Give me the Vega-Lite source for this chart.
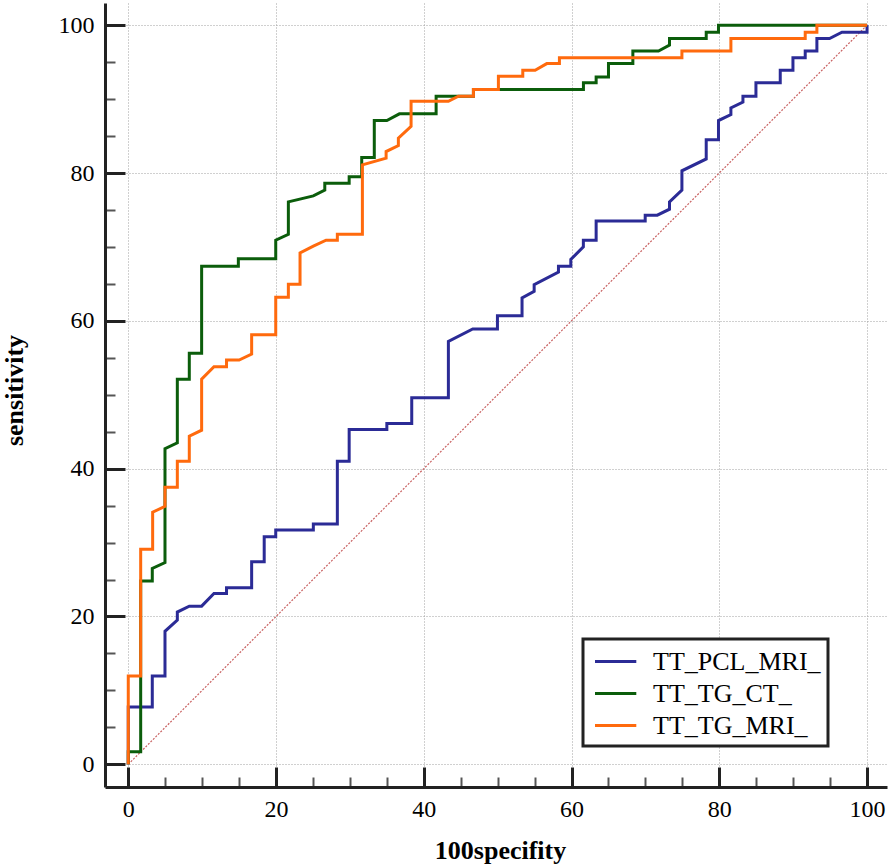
{
  "$schema": "https://vega.github.io/schema/vega-lite/v6.json",
  "width": 782,
  "height": 784,
  "autosize": {"type": "none"},
  "padding": {"left": 105, "top": 3, "right": 7, "bottom": 81},
  "background": "white",
  "config": {
    "view": {"stroke": null},
    "legend": {"strokeWidth": 3}
  },
  "datasets": {
    "diag": [{"x": 0, "y": 0}, {"x": 100, "y": 100}],
    "roc": [
      {"s": "TT_PCL_MRI_", "o": 0, "x": 0, "y": 0},
      {"s": "TT_PCL_MRI_", "o": 1, "x": 0, "y": 7.76},
      {"s": "TT_PCL_MRI_", "o": 2, "x": 3.25, "y": 7.76},
      {"s": "TT_PCL_MRI_", "o": 3, "x": 3.25, "y": 11.95},
      {"s": "TT_PCL_MRI_", "o": 4, "x": 4.97, "y": 11.95},
      {"s": "TT_PCL_MRI_", "o": 5, "x": 4.97, "y": 18.0},
      {"s": "TT_PCL_MRI_", "o": 6, "x": 6.64, "y": 19.5},
      {"s": "TT_PCL_MRI_", "o": 7, "x": 6.64, "y": 20.6},
      {"s": "TT_PCL_MRI_", "o": 8, "x": 8.26, "y": 21.4},
      {"s": "TT_PCL_MRI_", "o": 9, "x": 9.93, "y": 21.4},
      {"s": "TT_PCL_MRI_", "o": 10, "x": 11.6, "y": 23.1},
      {"s": "TT_PCL_MRI_", "o": 11, "x": 13.3, "y": 23.1},
      {"s": "TT_PCL_MRI_", "o": 12, "x": 13.3, "y": 23.9},
      {"s": "TT_PCL_MRI_", "o": 13, "x": 16.7, "y": 23.9},
      {"s": "TT_PCL_MRI_", "o": 14, "x": 16.7, "y": 27.4},
      {"s": "TT_PCL_MRI_", "o": 15, "x": 18.4, "y": 27.4},
      {"s": "TT_PCL_MRI_", "o": 16, "x": 18.4, "y": 30.8},
      {"s": "TT_PCL_MRI_", "o": 17, "x": 19.96, "y": 30.8},
      {"s": "TT_PCL_MRI_", "o": 18, "x": 19.96, "y": 31.7},
      {"s": "TT_PCL_MRI_", "o": 19, "x": 25.05, "y": 31.7},
      {"s": "TT_PCL_MRI_", "o": 20, "x": 25.05, "y": 32.5},
      {"s": "TT_PCL_MRI_", "o": 21, "x": 28.3, "y": 32.5},
      {"s": "TT_PCL_MRI_", "o": 22, "x": 28.3, "y": 41.0},
      {"s": "TT_PCL_MRI_", "o": 23, "x": 29.9, "y": 41.0},
      {"s": "TT_PCL_MRI_", "o": 24, "x": 29.9, "y": 45.3},
      {"s": "TT_PCL_MRI_", "o": 25, "x": 35.0, "y": 45.3},
      {"s": "TT_PCL_MRI_", "o": 26, "x": 35.0, "y": 46.1},
      {"s": "TT_PCL_MRI_", "o": 27, "x": 38.37, "y": 46.1},
      {"s": "TT_PCL_MRI_", "o": 28, "x": 38.37, "y": 49.6},
      {"s": "TT_PCL_MRI_", "o": 29, "x": 43.33, "y": 49.6},
      {"s": "TT_PCL_MRI_", "o": 30, "x": 43.33, "y": 57.2},
      {"s": "TT_PCL_MRI_", "o": 31, "x": 46.63, "y": 58.9},
      {"s": "TT_PCL_MRI_", "o": 32, "x": 49.97, "y": 58.9},
      {"s": "TT_PCL_MRI_", "o": 33, "x": 49.97, "y": 60.7},
      {"s": "TT_PCL_MRI_", "o": 34, "x": 53.3, "y": 60.7},
      {"s": "TT_PCL_MRI_", "o": 35, "x": 53.3, "y": 63.1},
      {"s": "TT_PCL_MRI_", "o": 36, "x": 54.94, "y": 64.0},
      {"s": "TT_PCL_MRI_", "o": 37, "x": 54.94, "y": 64.9},
      {"s": "TT_PCL_MRI_", "o": 38, "x": 58.23, "y": 66.6},
      {"s": "TT_PCL_MRI_", "o": 39, "x": 58.23, "y": 67.4},
      {"s": "TT_PCL_MRI_", "o": 40, "x": 59.9, "y": 67.4},
      {"s": "TT_PCL_MRI_", "o": 41, "x": 59.9, "y": 68.3},
      {"s": "TT_PCL_MRI_", "o": 42, "x": 61.6, "y": 70.0},
      {"s": "TT_PCL_MRI_", "o": 43, "x": 61.6, "y": 70.9},
      {"s": "TT_PCL_MRI_", "o": 44, "x": 63.33, "y": 70.9},
      {"s": "TT_PCL_MRI_", "o": 45, "x": 63.33, "y": 73.5},
      {"s": "TT_PCL_MRI_", "o": 46, "x": 69.97, "y": 73.5},
      {"s": "TT_PCL_MRI_", "o": 47, "x": 69.97, "y": 74.3},
      {"s": "TT_PCL_MRI_", "o": 48, "x": 71.6, "y": 74.3},
      {"s": "TT_PCL_MRI_", "o": 49, "x": 73.26, "y": 75.1},
      {"s": "TT_PCL_MRI_", "o": 50, "x": 73.26, "y": 76.1},
      {"s": "TT_PCL_MRI_", "o": 51, "x": 74.94, "y": 77.7},
      {"s": "TT_PCL_MRI_", "o": 52, "x": 74.94, "y": 80.3},
      {"s": "TT_PCL_MRI_", "o": 53, "x": 78.23, "y": 81.9},
      {"s": "TT_PCL_MRI_", "o": 54, "x": 78.23, "y": 84.5},
      {"s": "TT_PCL_MRI_", "o": 55, "x": 79.89, "y": 84.5},
      {"s": "TT_PCL_MRI_", "o": 56, "x": 79.89, "y": 87.1},
      {"s": "TT_PCL_MRI_", "o": 57, "x": 81.57, "y": 87.9},
      {"s": "TT_PCL_MRI_", "o": 58, "x": 81.57, "y": 88.8},
      {"s": "TT_PCL_MRI_", "o": 59, "x": 83.2, "y": 89.6},
      {"s": "TT_PCL_MRI_", "o": 60, "x": 83.2, "y": 90.4},
      {"s": "TT_PCL_MRI_", "o": 61, "x": 84.96, "y": 90.4},
      {"s": "TT_PCL_MRI_", "o": 62, "x": 84.96, "y": 92.2},
      {"s": "TT_PCL_MRI_", "o": 63, "x": 88.25, "y": 92.2},
      {"s": "TT_PCL_MRI_", "o": 64, "x": 88.25, "y": 93.9},
      {"s": "TT_PCL_MRI_", "o": 65, "x": 89.97, "y": 93.9},
      {"s": "TT_PCL_MRI_", "o": 66, "x": 89.97, "y": 95.6},
      {"s": "TT_PCL_MRI_", "o": 67, "x": 91.63, "y": 95.6},
      {"s": "TT_PCL_MRI_", "o": 68, "x": 91.63, "y": 96.5},
      {"s": "TT_PCL_MRI_", "o": 69, "x": 93.21, "y": 96.5},
      {"s": "TT_PCL_MRI_", "o": 70, "x": 93.21, "y": 98.2},
      {"s": "TT_PCL_MRI_", "o": 71, "x": 94.92, "y": 98.2},
      {"s": "TT_PCL_MRI_", "o": 72, "x": 96.6, "y": 99.05},
      {"s": "TT_PCL_MRI_", "o": 73, "x": 100, "y": 99.05},
      {"s": "TT_PCL_MRI_", "o": 74, "x": 100, "y": 100},
      {"s": "TT_TG_CT_", "o": 0, "x": 0, "y": 0},
      {"s": "TT_TG_CT_", "o": 1, "x": 0, "y": 1.7},
      {"s": "TT_TG_CT_", "o": 2, "x": 1.68, "y": 1.7},
      {"s": "TT_TG_CT_", "o": 3, "x": 1.68, "y": 24.8},
      {"s": "TT_TG_CT_", "o": 4, "x": 3.25, "y": 24.8},
      {"s": "TT_TG_CT_", "o": 5, "x": 3.25, "y": 26.5},
      {"s": "TT_TG_CT_", "o": 6, "x": 4.97, "y": 27.3},
      {"s": "TT_TG_CT_", "o": 7, "x": 4.97, "y": 42.7},
      {"s": "TT_TG_CT_", "o": 8, "x": 6.64, "y": 43.5},
      {"s": "TT_TG_CT_", "o": 9, "x": 6.64, "y": 52.1},
      {"s": "TT_TG_CT_", "o": 10, "x": 8.26, "y": 52.1},
      {"s": "TT_TG_CT_", "o": 11, "x": 8.26, "y": 55.6},
      {"s": "TT_TG_CT_", "o": 12, "x": 9.93, "y": 55.6},
      {"s": "TT_TG_CT_", "o": 13, "x": 9.93, "y": 67.4},
      {"s": "TT_TG_CT_", "o": 14, "x": 14.9, "y": 67.4},
      {"s": "TT_TG_CT_", "o": 15, "x": 14.9, "y": 68.4},
      {"s": "TT_TG_CT_", "o": 16, "x": 19.96, "y": 68.4},
      {"s": "TT_TG_CT_", "o": 17, "x": 19.96, "y": 70.9},
      {"s": "TT_TG_CT_", "o": 18, "x": 21.67, "y": 71.7},
      {"s": "TT_TG_CT_", "o": 19, "x": 21.67, "y": 76.1},
      {"s": "TT_TG_CT_", "o": 20, "x": 25.05, "y": 76.9},
      {"s": "TT_TG_CT_", "o": 21, "x": 26.6, "y": 77.7},
      {"s": "TT_TG_CT_", "o": 22, "x": 26.6, "y": 78.6},
      {"s": "TT_TG_CT_", "o": 23, "x": 29.9, "y": 78.6},
      {"s": "TT_TG_CT_", "o": 24, "x": 29.9, "y": 79.5},
      {"s": "TT_TG_CT_", "o": 25, "x": 31.6, "y": 79.5},
      {"s": "TT_TG_CT_", "o": 26, "x": 31.6, "y": 82.1},
      {"s": "TT_TG_CT_", "o": 27, "x": 33.3, "y": 82.1},
      {"s": "TT_TG_CT_", "o": 28, "x": 33.3, "y": 87.1},
      {"s": "TT_TG_CT_", "o": 29, "x": 35.0, "y": 87.1},
      {"s": "TT_TG_CT_", "o": 30, "x": 36.7, "y": 88.0},
      {"s": "TT_TG_CT_", "o": 31, "x": 41.67, "y": 88.0},
      {"s": "TT_TG_CT_", "o": 32, "x": 41.67, "y": 90.4},
      {"s": "TT_TG_CT_", "o": 33, "x": 46.72, "y": 90.4},
      {"s": "TT_TG_CT_", "o": 34, "x": 46.72, "y": 91.3},
      {"s": "TT_TG_CT_", "o": 35, "x": 61.61, "y": 91.3},
      {"s": "TT_TG_CT_", "o": 36, "x": 61.61, "y": 92.2},
      {"s": "TT_TG_CT_", "o": 37, "x": 63.33, "y": 92.2},
      {"s": "TT_TG_CT_", "o": 38, "x": 63.33, "y": 93.0},
      {"s": "TT_TG_CT_", "o": 39, "x": 65.0, "y": 93.0},
      {"s": "TT_TG_CT_", "o": 40, "x": 65.0, "y": 94.8},
      {"s": "TT_TG_CT_", "o": 41, "x": 68.3, "y": 94.8},
      {"s": "TT_TG_CT_", "o": 42, "x": 68.3, "y": 96.5},
      {"s": "TT_TG_CT_", "o": 43, "x": 71.77, "y": 96.5},
      {"s": "TT_TG_CT_", "o": 44, "x": 73.26, "y": 97.3},
      {"s": "TT_TG_CT_", "o": 45, "x": 73.26, "y": 98.2},
      {"s": "TT_TG_CT_", "o": 46, "x": 78.23, "y": 98.2},
      {"s": "TT_TG_CT_", "o": 47, "x": 78.23, "y": 99.05},
      {"s": "TT_TG_CT_", "o": 48, "x": 79.89, "y": 99.05},
      {"s": "TT_TG_CT_", "o": 49, "x": 79.89, "y": 100},
      {"s": "TT_TG_CT_", "o": 50, "x": 100, "y": 100},
      {"s": "TT_TG_MRI_", "o": 0, "x": 0, "y": 0},
      {"s": "TT_TG_MRI_", "o": 1, "x": 0, "y": 11.95},
      {"s": "TT_TG_MRI_", "o": 2, "x": 1.68, "y": 11.95},
      {"s": "TT_TG_MRI_", "o": 3, "x": 1.68, "y": 29.1},
      {"s": "TT_TG_MRI_", "o": 4, "x": 3.3, "y": 29.1},
      {"s": "TT_TG_MRI_", "o": 5, "x": 3.3, "y": 34.1},
      {"s": "TT_TG_MRI_", "o": 6, "x": 4.97, "y": 34.9},
      {"s": "TT_TG_MRI_", "o": 7, "x": 4.97, "y": 37.5},
      {"s": "TT_TG_MRI_", "o": 8, "x": 6.64, "y": 37.5},
      {"s": "TT_TG_MRI_", "o": 9, "x": 6.64, "y": 41.0},
      {"s": "TT_TG_MRI_", "o": 10, "x": 8.26, "y": 41.0},
      {"s": "TT_TG_MRI_", "o": 11, "x": 8.26, "y": 44.4},
      {"s": "TT_TG_MRI_", "o": 12, "x": 9.93, "y": 45.2},
      {"s": "TT_TG_MRI_", "o": 13, "x": 9.93, "y": 52.1},
      {"s": "TT_TG_MRI_", "o": 14, "x": 11.6, "y": 53.8},
      {"s": "TT_TG_MRI_", "o": 15, "x": 13.3, "y": 53.8},
      {"s": "TT_TG_MRI_", "o": 16, "x": 13.3, "y": 54.7},
      {"s": "TT_TG_MRI_", "o": 17, "x": 15.0, "y": 54.7},
      {"s": "TT_TG_MRI_", "o": 18, "x": 16.7, "y": 55.5},
      {"s": "TT_TG_MRI_", "o": 19, "x": 16.7, "y": 58.1},
      {"s": "TT_TG_MRI_", "o": 20, "x": 19.96, "y": 58.1},
      {"s": "TT_TG_MRI_", "o": 21, "x": 19.96, "y": 63.2},
      {"s": "TT_TG_MRI_", "o": 22, "x": 21.67, "y": 63.2},
      {"s": "TT_TG_MRI_", "o": 23, "x": 21.67, "y": 64.95},
      {"s": "TT_TG_MRI_", "o": 24, "x": 23.25, "y": 64.95},
      {"s": "TT_TG_MRI_", "o": 25, "x": 23.25, "y": 69.2},
      {"s": "TT_TG_MRI_", "o": 26, "x": 25.05, "y": 70.1},
      {"s": "TT_TG_MRI_", "o": 27, "x": 26.77, "y": 70.9},
      {"s": "TT_TG_MRI_", "o": 28, "x": 28.3, "y": 70.9},
      {"s": "TT_TG_MRI_", "o": 29, "x": 28.3, "y": 71.7},
      {"s": "TT_TG_MRI_", "o": 30, "x": 31.69, "y": 71.7},
      {"s": "TT_TG_MRI_", "o": 31, "x": 31.69, "y": 81.1},
      {"s": "TT_TG_MRI_", "o": 32, "x": 34.9, "y": 82.0},
      {"s": "TT_TG_MRI_", "o": 33, "x": 34.9, "y": 82.9},
      {"s": "TT_TG_MRI_", "o": 34, "x": 36.56, "y": 83.7},
      {"s": "TT_TG_MRI_", "o": 35, "x": 36.56, "y": 84.7},
      {"s": "TT_TG_MRI_", "o": 36, "x": 38.28, "y": 86.3},
      {"s": "TT_TG_MRI_", "o": 37, "x": 38.28, "y": 89.7},
      {"s": "TT_TG_MRI_", "o": 38, "x": 43.33, "y": 89.7},
      {"s": "TT_TG_MRI_", "o": 39, "x": 44.69, "y": 90.4},
      {"s": "TT_TG_MRI_", "o": 40, "x": 46.72, "y": 90.4},
      {"s": "TT_TG_MRI_", "o": 41, "x": 46.72, "y": 91.3},
      {"s": "TT_TG_MRI_", "o": 42, "x": 50.1, "y": 91.3},
      {"s": "TT_TG_MRI_", "o": 43, "x": 50.1, "y": 93.1},
      {"s": "TT_TG_MRI_", "o": 44, "x": 53.4, "y": 93.1},
      {"s": "TT_TG_MRI_", "o": 45, "x": 53.4, "y": 93.9},
      {"s": "TT_TG_MRI_", "o": 46, "x": 55.07, "y": 93.9},
      {"s": "TT_TG_MRI_", "o": 47, "x": 56.65, "y": 94.8},
      {"s": "TT_TG_MRI_", "o": 48, "x": 58.36, "y": 94.8},
      {"s": "TT_TG_MRI_", "o": 49, "x": 58.36, "y": 95.6},
      {"s": "TT_TG_MRI_", "o": 50, "x": 74.94, "y": 95.6},
      {"s": "TT_TG_MRI_", "o": 51, "x": 74.94, "y": 96.5},
      {"s": "TT_TG_MRI_", "o": 52, "x": 81.57, "y": 96.5},
      {"s": "TT_TG_MRI_", "o": 53, "x": 81.57, "y": 98.2},
      {"s": "TT_TG_MRI_", "o": 54, "x": 91.63, "y": 98.2},
      {"s": "TT_TG_MRI_", "o": 55, "x": 91.63, "y": 99.05},
      {"s": "TT_TG_MRI_", "o": 56, "x": 93.21, "y": 99.05},
      {"s": "TT_TG_MRI_", "o": 57, "x": 93.21, "y": 100},
      {"s": "TT_TG_MRI_", "o": 58, "x": 100, "y": 100}
    ]
  },
  "encoding": {
    "x": {
      "field": "x", "type": "quantitative",
      "scale": {"domain": [-3.15, 102.7], "nice": false, "zero": false},
      "axis": {
        "orient": "bottom",
        "values": [0, 5, 10, 15, 20, 25, 30, 35, 40, 45, 50, 55, 60, 65, 70, 75, 80, 85, 90, 95, 100],
        "grid": true, "gridColor": "#a0a0a0", "gridDash": [1, 2], "gridWidth": 1,
        "gridOpacity": {"condition": {"test": "datum.value % 20 === 0", "value": 1}, "value": 0},
        "domain": true, "domainColor": "#222222", "domainWidth": 3,
        "ticks": true,
        "tickSize": {"condition": {"test": "datum.value % 20 === 0", "value": -20}, "value": -10},
        "tickWidth": {"condition": {"test": "datum.value % 20 === 0", "value": 3}, "value": 2},
        "tickColor": {"condition": {"test": "datum.value % 20 === 0", "value": "#222222"}, "value": "#555555"},
        "labelExpr": "datum.value % 20 === 0 ? datum.label : ''",
        "labelPadding": 30, "labelFont": "Liberation Serif", "labelFontSize": 24, "labelColor": "#000000",
        "labelFlush": false, "labelOverlap": false,
        "title": "100specifity", "titleFont": "Liberation Serif", "titleFontSize": 26, "titleFontWeight": "bold",
        "titleColor": "#000000", "titleX": 395, "titleY": 71, "titleBaseline": "alphabetic", "titleAlign": "center"
      }
    },
    "y": {
      "field": "y", "type": "quantitative",
      "scale": {"domain": [-3.07, 103], "nice": false, "zero": false},
      "axis": {
        "orient": "left",
        "values": [0, 5, 10, 15, 20, 25, 30, 35, 40, 45, 50, 55, 60, 65, 70, 75, 80, 85, 90, 95, 100],
        "grid": true, "gridColor": "#a0a0a0", "gridDash": [1, 2], "gridWidth": 1,
        "gridOpacity": {"condition": {"test": "datum.value % 20 === 0", "value": 1}, "value": 0},
        "domain": true, "domainColor": "#222222", "domainWidth": 3,
        "ticks": true,
        "tickSize": {"condition": {"test": "datum.value % 20 === 0", "value": -20}, "value": -10},
        "tickWidth": {"condition": {"test": "datum.value % 20 === 0", "value": 3}, "value": 2},
        "tickColor": {"condition": {"test": "datum.value % 20 === 0", "value": "#222222"}, "value": "#555555"},
        "labelExpr": "datum.value % 20 === 0 ? datum.label : ''",
        "labelPadding": 31, "labelFont": "Liberation Serif", "labelFontSize": 24, "labelColor": "#000000",
        "labelFlush": false, "labelOverlap": false,
        "title": "sensitivity", "titleFont": "Liberation Serif", "titleFontSize": 26, "titleFontWeight": "bold",
        "titleColor": "#000000", "titleX": -83, "titleY": 387, "titleAngle": 270, "titleBaseline": "alphabetic", "titleAlign": "center"
      }
    }
  },
  "layer": [
    {
      "data": {"name": "diag"},
      "mark": {"type": "line", "stroke": "#c86060", "strokeWidth": 1.2, "strokeDash": [2, 1.5]}
    },
    {
      "data": {"name": "roc"},
      "mark": {"type": "line", "strokeWidth": 3},
      "encoding": {
        "order": {"field": "o", "type": "quantitative"},
        "color": {
          "field": "s", "type": "nominal",
          "scale": {"domain": ["TT_PCL_MRI_", "TT_TG_CT_", "TT_TG_MRI_"], "range": ["#2b2b96", "#0b5d0b", "#ff6a0d"]},
          "legend": {
            "orient": "none", "legendX": 478, "legendY": 636, "title": null,
            "strokeColor": "#222222", "fillColor": "#ffffff", "padding": 7,
            "labelFont": "Liberation Serif", "labelFontSize": 26, "labelColor": "#000000", "labelLimit": 400,
            "symbolType": "M-0.75,0H2.2", "symbolSize": 784, "symbolStrokeWidth": 3,
            "labelOffset": 32, "rowPadding": 3
          }
        }
      }
    }
  ]
}
